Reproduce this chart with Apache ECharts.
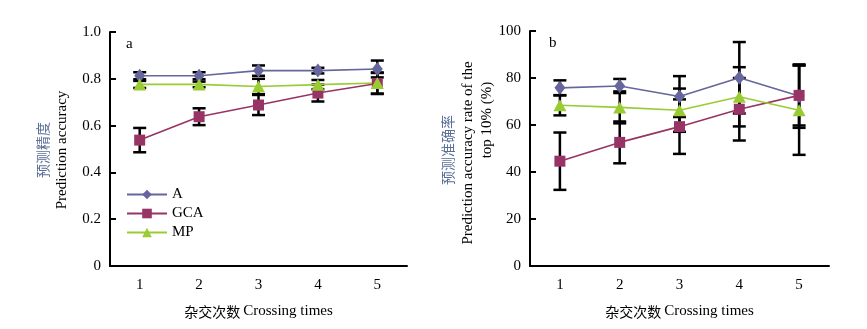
<!DOCTYPE html>
<html><head><meta charset="utf-8">
<script src="https://cdn.jsdelivr.net/npm/echarts@6/dist/echarts.min.js"></script>
<style>html,body{margin:0;padding:0;background:#fff}#c{width:867px;height:329px}</style>
</head><body><div id="c"></div>
<script>
var categories = ['1','2','3','4','5'];
var seriesNames = ['A','GCA','MP'];
// panel a: prediction accuracy
var aA = [0.813, 0.813, 0.835, 0.835, 0.842];
var aAErr = [0.015, 0.015, 0.022, 0.012, 0.036];
var aGCA = [0.538, 0.638, 0.688, 0.739, 0.780];
var aGCAErr = [0.052, 0.036, 0.043, 0.036, 0.045];
var aMP = [0.776, 0.776, 0.767, 0.775, 0.782];
var aMPErr = [0.015, 0.012, 0.033, 0.020, 0.045];
// panel b: prediction accuracy rate of top 10% (%)
var bA = [75.8, 76.6, 72.1, 80.1, 72.3];
var bAErr = [3.2, 3.0, 8.7, 15.2, 13.5];
var bGCA = [44.6, 52.6, 59.3, 66.7, 72.6];
var bGCAErr = [12.2, 8.9, 11.6, 13.3, 12.8];
var bMP = [68.4, 67.5, 66.3, 72.0, 66.3];
var bMPErr = [4.3, 6.8, 9.2, 12.6, 19.0];
var yTicksA = ['0','0.2','0.4','0.6','0.8','1.0'];
var yTicksB = ['0','20','40','60','80','100'];
var xTitle = ['杂交次数', 'Crossing times'];
var yTitleA = ['预测精度', 'Prediction accuracy'];
var yTitleB = ['预测准确率', 'Prediction accuracy rate of the', 'top 10% (%)'];
var panelLabels = ['a', 'b'];

var colors = {A:'#66669c', GCA:'#983366', MP:'#99cc33'};
var symbols = {A:['diamond',[11,14]], GCA:['rect',[11,11]], MP:['triangle',[13,12]]};
var FONT = '"Liberation Serif","Noto Sans CJK SC",serif';
var CN = '#5a6f96';

var chart = echarts.init(document.getElementById('c'));

function errSeries(name, vals, errs, gi){
  return {
    type:'custom', name:name+'_err', xAxisIndex:gi, yAxisIndex:gi, z:1, silent:true,
    data: vals.map(function(v,i){return [i, v, errs[i]];}),
    renderItem: function(params, api){
      var x = api.value(0), y = api.value(1), e = api.value(2);
      var t = api.coord([x, y+e]), b = api.coord([x, y-e]);
      var hw = 6.5, st = {stroke:'#000', lineWidth:2.5};
      return {type:'group', children:[
        {type:'line', shape:{x1:t[0],y1:t[1],x2:b[0],y2:b[1]}, style:st},
        {type:'line', shape:{x1:t[0]-hw,y1:t[1],x2:t[0]+hw,y2:t[1]}, style:st},
        {type:'line', shape:{x1:b[0]-hw,y1:b[1],x2:b[0]+hw,y2:b[1]}, style:st}
      ]};
    }
  };
}
function lineSeries(name, vals, gi){
  return {
    type:'line', name:name, xAxisIndex:gi, yAxisIndex:gi, z:3, data:vals,
    symbol:symbols[name][0], symbolSize:symbols[name][1], showSymbol:true,
    itemStyle:{color:colors[name]}, lineStyle:{color:colors[name], width:1.6},
    animation:false
  };
}
function xAx(gi){
  return {type:'category', gridIndex:gi, data:categories, boundaryGap:true,
    axisLine:{lineStyle:{color:'#000', width:2}},
    axisTick:{inside:true, length:6, lineStyle:{color:'#000', width:2}},
    axisLabel:{color:'#000', fontFamily:FONT, fontSize:15, margin:12},
    name:'{cn|' + xTitle[0] + '} {en|' + xTitle[1] + '}', nameLocation:'middle', nameGap:38,
    nameTextStyle:{rich:{cn:{fontFamily:'"Noto Sans CJK SC"', fontSize:14, color:'#000'}, en:{fontFamily:FONT, fontSize:15, color:'#000'}}}
  };
}
function yAx(gi, max, interval, ticks){
  return {type:'value', gridIndex:gi, min:0, max:max, interval:interval,
    splitLine:{show:false},
    axisLine:{show:true, lineStyle:{color:'#000', width:2}},
    axisTick:{show:true, inside:true, length:6, lineStyle:{color:'#000', width:2}},
    axisLabel:{color:'#000', fontFamily:FONT, fontSize:15, margin:9,
      formatter:function(v){return ticks[Math.round(v/interval)];}}
  };
}
function vText(str, x, y, cn){
  return {type:'text', x:x, y:y, rotation:Math.PI/2, silent:true,
    style:{text:str, textAlign:'center', textVerticalAlign:'middle',
      font: cn ? '14px "Noto Sans CJK SC"' : '15px "Liberation Serif"', fill: cn ? CN : '#000'}};
}

chart.setOption({
  animation:false,
  textStyle:{fontFamily:FONT},
  grid:[
    {left:110, top:32, width:297, height:234},
    {left:530, top:31, width:299, height:235}
  ],
  xAxis:[xAx(0), xAx(1)],
  yAxis:[yAx(0, 1, 0.2, yTicksA), yAx(1, 100, 20, yTicksB)],
  legend:{data:seriesNames, orient:'vertical', left:121, top:182, itemWidth:40, itemHeight:12, itemGap:4,
    textStyle:{fontFamily:FONT, fontSize:15, color:'#000'}},
  graphic:[
    {type:'text', left:126, top:37, style:{text:panelLabels[0], font:'15px "Liberation Serif"', fill:'#000'}},
    {type:'text', left:549, top:36, style:{text:panelLabels[1], font:'15px "Liberation Serif"', fill:'#000'}},
    vText(yTitleA[0], 43, 150, true),
    vText(yTitleA[1], 62, 150, false),
    vText(yTitleB[0], 448, 150, true),
    vText(yTitleB[1], 468, 153, false),
    vText(yTitleB[2], 487, 120, false)
  ],
  series:[
    errSeries('A', aA, aAErr, 0), errSeries('GCA', aGCA, aGCAErr, 0), errSeries('MP', aMP, aMPErr, 0),
    lineSeries('A', aA, 0), lineSeries('GCA', aGCA, 0), lineSeries('MP', aMP, 0),
    errSeries('A', bA, bAErr, 1), errSeries('GCA', bGCA, bGCAErr, 1), errSeries('MP', bMP, bMPErr, 1),
    lineSeries('A', bA, 1), lineSeries('GCA', bGCA, 1), lineSeries('MP', bMP, 1)
  ]
});
</script></body></html>
